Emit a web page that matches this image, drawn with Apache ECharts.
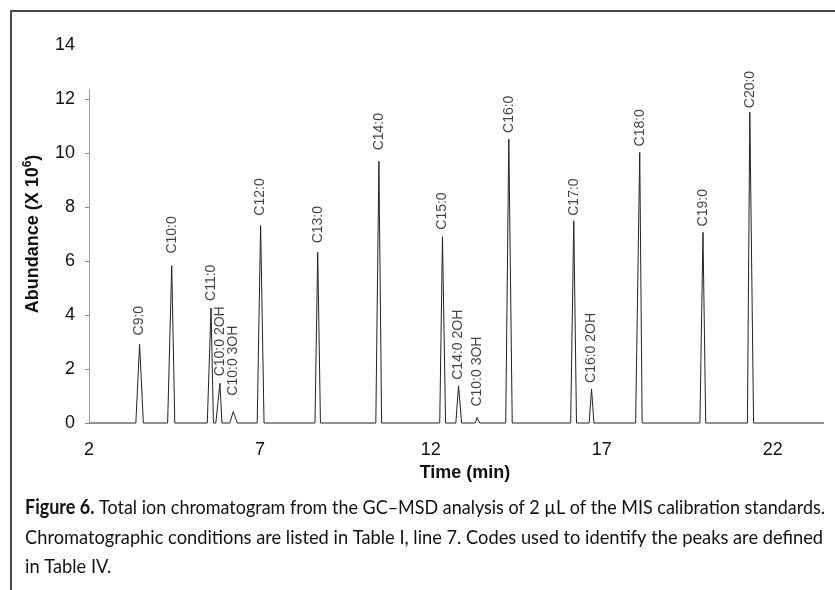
<!DOCTYPE html>
<html><head><meta charset="utf-8">
<script src="https://cdn.jsdelivr.net/npm/echarts@6/dist/echarts.min.js"></script>
<style>html,body{margin:0;padding:0;background:#fff}#c{width:835px;height:590px}</style>
</head><body><div id="c"></div>
<script>
// ---- data ----
const peakNames   = ['C9:0','C10:0','C11:0','C10:0 2OH','C10:0 3OH','C12:0','C13:0','C14:0','C15:0','C14:0 2OH','C10:0 3OH','C16:0','C17:0','C16:0 2OH','C18:0','C19:0','C20:0'];
const peakTimes   = [3.48, 4.42, 5.57, 5.83, 6.22, 7.02, 8.69, 10.48, 12.34, 12.81, 13.35, 14.28, 16.18, 16.70, 18.11, 19.96, 21.33];
const peakHeights = [2.91, 5.83, 4.26, 1.47, 0.42, 7.31, 6.32, 9.69, 6.90, 1.38, 0.20, 10.52, 7.49, 1.26, 10.02, 7.06, 11.51];
const peakStarts  = [3.37, 4.30, 5.46, 5.71, 6.12, 6.92, 8.61, 10.39, 12.26, 12.73, 13.30, 14.19, 16.09, 16.63, 17.99, 19.87, 21.26];
const peakEnds    = [3.59, 4.51, 5.64, 5.89, 6.34, 7.12, 8.77, 10.56, 12.43, 12.90, 13.43, 14.38, 16.26, 16.77, 18.18, 20.04, 21.44];
const runStart = 2.0;
const runEnd = 23.5;
const xTickLabels = [2, 7, 12, 17, 22];
const yTickLabels = [0, 2, 4, 6, 8, 10, 12, 14];
const yAxisTop = 12.35;
const captionLines = [
  ['Figure 6.', ' Total ion chromatogram from the GC\u2013MSD analysis of 2 \u00b5L of the MIS calibration standards.'],
  ['', 'Chromatographic conditions are listed in Table I, line 7. Codes used to identify the peaks are defined'],
  ['', 'in Table IV.']
];

// ---- styles (not data) ----
const labelGap = [9, 12, 7, 7, 16, 10, 9, 11, 7, 6, 11, 6, 5, 6, 6, 6, 4];
const FONT = '"Liberation Sans", Arial, sans-serif';

// trace built from the read peak points
const trace = [[runStart, 0]];
for (let i = 0; i < peakTimes.length; i++) {
  trace.push([peakStarts[i], 0], [peakTimes[i], peakHeights[i]], [peakEnds[i], 0]);
}
trace.push([runEnd, 0]);

const chart = echarts.init(document.getElementById('c'), null, {renderer: 'canvas'});

// caption layout: fit each line to the reference width using a condensed scale
const mc = document.createElement('canvas').getContext('2d');
function measure(font, txt) { mc.font = font; return mc.measureText(txt).width; }
const capFont = 'Lato, "Open Sans", sans-serif';
const capSize = 20;
const w1 = measure('bold ' + capSize + 'px ' + capFont, captionLines[0][0]) + measure(capSize + 'px ' + capFont, captionLines[0][1]);
const w2 = measure(capSize + 'px ' + capFont, captionLines[1][1]);
const s1 = 800 / w1;
const s2 = 798 / w2;
const capBase = [518, 547.5, 577];
const capGraphics = captionLines.map((ln, i) => ({
  type: 'text', x: 25, y: capBase[i], scaleX: i === 0 ? s1 : s2,
  style: {
    text: (ln[0] ? '{b|' + ln[0] + '}' : '') + '{n|' + ln[1] + '}',
    rich: {
      b: {fontFamily: capFont, fontSize: capSize, fontWeight: 'bold', fill: '#111', verticalAlign: 'bottom'},
      n: {fontFamily: capFont, fontSize: capSize, fill: '#111', verticalAlign: 'bottom'}
    },
    textVerticalAlign: 'bottom', verticalAlign: 'bottom'
  }
}));

const option = {
  animation: false,
  backgroundColor: '#fff',
  grid: {left: 89, right: 11, top: 45, bottom: 167, containLabel: false},
  xAxis: {
    type: 'value', min: runStart, max: runEnd, interval: 5,
    name: 'Time (min)', nameLocation: 'middle', nameGap: 39,
    nameTextStyle: {fontFamily: FONT, fontSize: 18, fontWeight: 'bold', color: '#111', padding: [0, 0, 0, 17]},
    axisLine: {show: false}, axisTick: {show: false}, splitLine: {show: false},
    axisLabel: {customValues: xTickLabels, fontFamily: FONT, fontSize: 18, color: '#111', margin: 18}
  },
  yAxis: {
    type: 'value', min: 0, max: 14, interval: 2,
    name: '{a|Abundance (X 10}{s|6}{a|)}', nameLocation: 'middle', nameGap: 45,
    nameTextStyle: {
      rich: {
        a: {fontFamily: FONT, fontSize: 18, fontWeight: 'bold', color: '#111', lineHeight: 22},
        s: {fontFamily: FONT, fontSize: 12, fontWeight: 'bold', color: '#111', lineHeight: 22, verticalAlign: 'top', padding: [0, 0, 6, 0]}
      }
    },
    axisLine: {show: false},
    axisTick: {show: true, length: 4, customValues: [0, 2, 4, 6, 8, 10, 12], lineStyle: {color: '#888', width: 1}},
    splitLine: {show: false},
    axisLabel: {customValues: yTickLabels, fontFamily: FONT, fontSize: 18, color: '#111', margin: 14}
  },
  graphic: [
    {type: 'line', shape: {x1: 11, y1: 10, x2: 11, y2: 590}, style: {stroke: '#4a4a4a', lineWidth: 2}},
    {type: 'line', shape: {x1: 10, y1: 11, x2: 835, y2: 11}, style: {stroke: '#4a4a4a', lineWidth: 2}}
  ].concat(capGraphics),
  series: [
    {
      type: 'line', data: trace, showSymbol: false, symbol: 'none',
      lineStyle: {color: '#222', width: 1}, clip: false,
      markLine: {
        silent: true, symbol: 'none', label: {show: false},
        lineStyle: {color: '#a0a0a0', width: 1, type: 'solid'},
        data: [[{coord: [runStart, 0]}, {coord: [runStart, yAxisTop]}]]
      }
    },
    {
      type: 'scatter', symbolSize: 0, silent: true,
      data: peakTimes.map((t, i) => ({value: [t, peakHeights[i]], label: {distance: labelGap[i]}})),
      label: {
        show: true, position: 'top', rotate: 90, align: 'left', verticalAlign: 'middle',
        formatter: p => peakNames[p.dataIndex],
        fontFamily: FONT, fontSize: 14, color: '#111'
      }
    }
  ]
};
chart.setOption(option);
</script></body></html>
